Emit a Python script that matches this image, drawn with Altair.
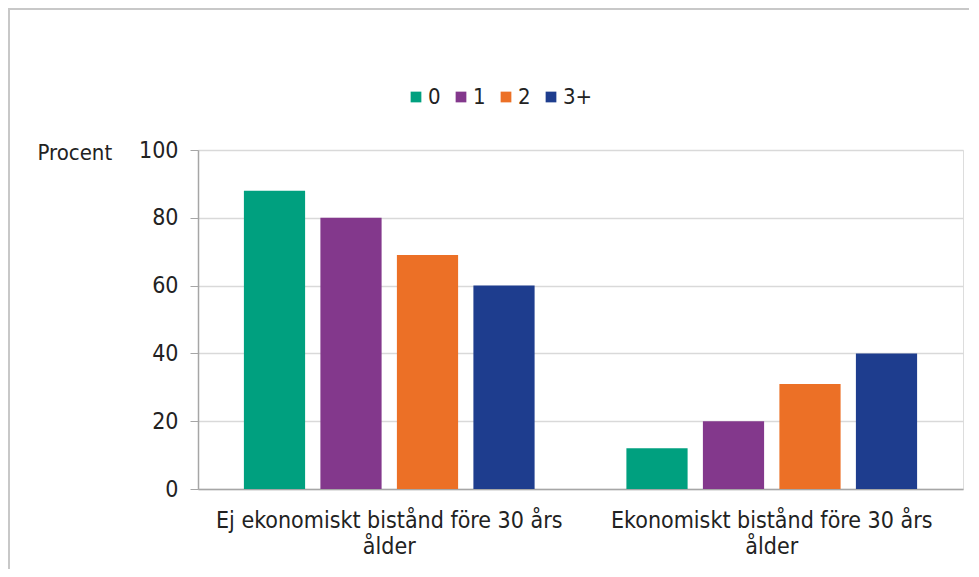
import altair as alt
import pandas as pd

groups = ["Ej ekonomiskt bistånd före 30 års ålder", "Ekonomiskt bistånd före 30 års ålder"]
series = ["0", "1", "2", "3+"]
values_ej = [88, 80, 69, 60]
values_ek = [12, 20, 31, 40]
colors = ["#00A07F", "#83388C", "#EC7026", "#1E3D8E"]

rows = []
for s, v in zip(series, values_ej):
    rows.append({"grupp": groups[0], "antal": s, "procent": v})
for s, v in zip(series, values_ek):
    rows.append({"grupp": groups[1], "antal": s, "procent": v})
df = pd.DataFrame(rows)

FONT = "DejaVu Sans Condensed, Noto Sans, sans-serif"

bars = alt.Chart(df).mark_bar().encode(
    x=alt.X("grupp:N", sort=groups,
            scale=alt.Scale(paddingInner=0, paddingOuter=0),
            axis=alt.Axis(title=None, labelAngle=0, ticks=False, domainColor="#a6a6a6",
                          domainWidth=1.5, labelFontSize=23, labelColor="#222222",
                          labelPadding=20, labelLineHeight=26, labelFont=FONT,
                          labelLimit=0,
                          labelExpr="[replace(datum.label, ' ålder', ''), 'ålder']")),
    xOffset=alt.XOffset("antal:N", sort=series,
                        scale=alt.Scale(paddingInner=0.2, paddingOuter=0.6)),
    y=alt.Y("procent:Q", scale=alt.Scale(domain=[0, 100]),
            axis=alt.Axis(values=[0, 20, 40, 60, 80, 100], title="Procent",
                          titleAngle=0, titleX=-161, titleY=2, titleAlign="left",
                          titleBaseline="middle", titleFontWeight="normal",
                          titleFontSize=22, titleFont=FONT, titleColor="#222222",
                          labelFontSize=23, labelFont=FONT, labelColor="#222222",
                          labelPadding=12, tickSize=8, tickColor="#a6a6a6",
                          domainColor="#a6a6a6", domainWidth=1.5,
                          gridColor="#d9d9d9", gridWidth=1.5)),
    color=alt.Color("antal:N", sort=series,
                    scale=alt.Scale(domain=series, range=colors),
                    legend=alt.Legend(title=None, orient="none", direction="horizontal",
                                      legendX=207, legendY=-64, symbolType="square",
                                      symbolSize=115, symbolStrokeWidth=0,
                                      labelFontSize=22, labelFont=FONT,
                                      labelColor="#222222", labelOffset=1,
                                      columnPadding=9)),
)

border = alt.Chart(pd.DataFrame({"k": [0]})).mark_rect(
    fill="transparent", stroke="#c8c8c8", strokeWidth=2
).encode(
    x=alt.value(-189), x2=alt.value(900), y=alt.value(-141), y2=alt.value(600)
)

chart = alt.layer(border, bars).properties(
    width=765, height=339,
    autosize=alt.AutoSizeParams(type="none"),
    padding={"left": 190, "top": 142, "right": 6, "bottom": 80},
).configure_view(stroke=None).configure(font=FONT)

chart.save("out.html", embed_options={"renderer": "svg", "actions": False})
